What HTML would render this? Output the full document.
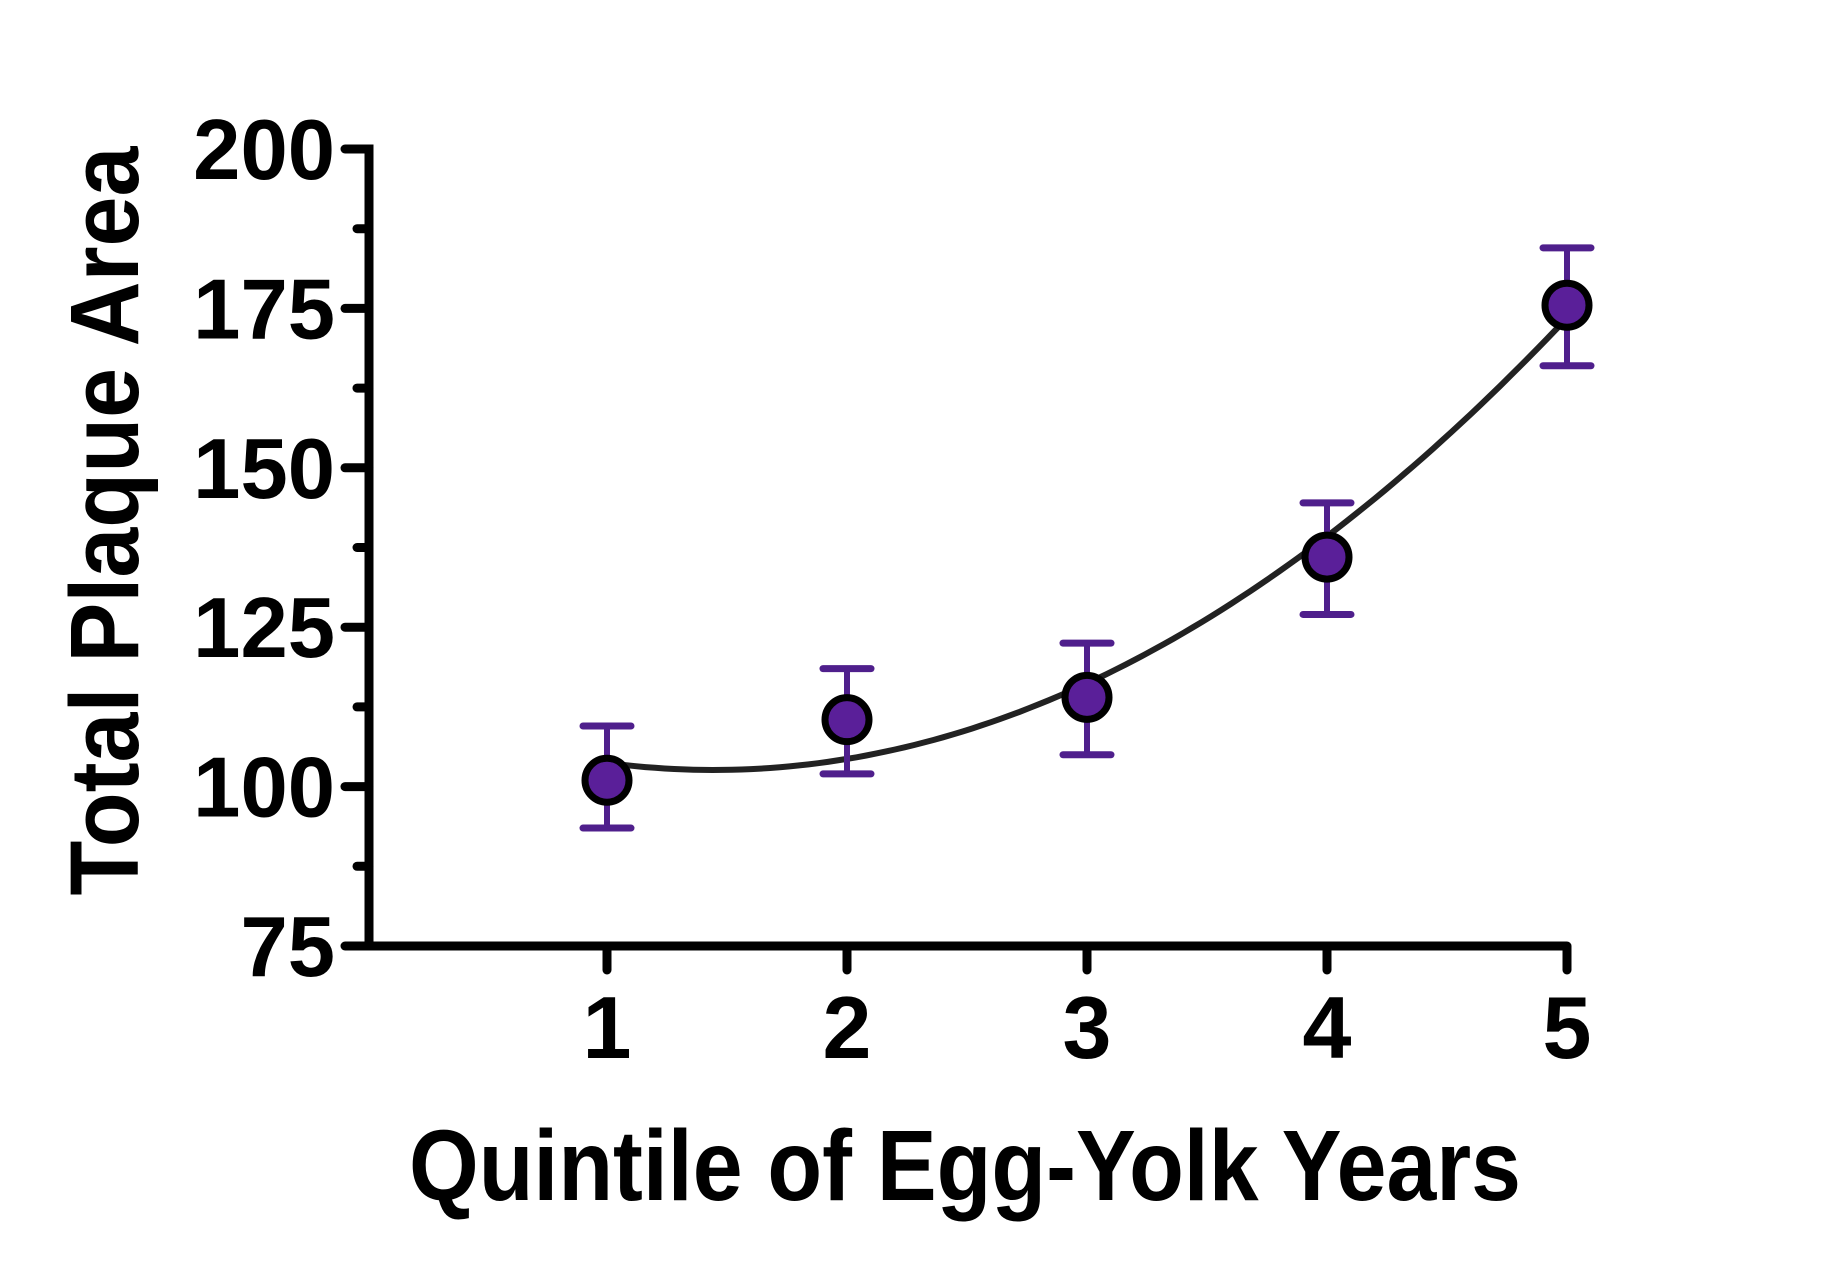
<!DOCTYPE html>
<html><head><meta charset="utf-8"><style>
html,body{margin:0;padding:0;background:#fff;}
svg{display:block;font-family:"Liberation Sans",sans-serif;font-weight:bold;}
</style></head><body>
<svg id="chart" width="1834" height="1275" viewBox="0 0 1834 1275" xmlns="http://www.w3.org/2000/svg">
<g id="axes"></g>
<g id="fit"></g>
<g id="pts"></g>
<text x="965" y="1200" font-size="100" text-anchor="middle" textLength="1112" lengthAdjust="spacingAndGlyphs" fill="#000">Quintile of Egg-Yolk Years</text>
<text transform="translate(138,521) rotate(-90)" font-size="97" text-anchor="middle" textLength="749" lengthAdjust="spacingAndGlyphs" fill="#000">Total Plaque Area</text>
</svg>
<script>
const categories = [1, 2, 3, 4, 5];
const means = [101, 110.5, 114, 136, 175.5];
const errLow = [93.5, 102, 105, 127, 166];
const errHigh = [109.5, 118.5, 122.5, 144.5, 184.5];
const yTicks = [75, 100, 125, 150, 175, 200];
const yMinorTicks = [87.5, 112.5, 137.5, 162.5, 187.5];

const NS = "http://www.w3.org/2000/svg";
const X0 = 369, X1y = 946, Y200 = 149;
function xs(v){ return 607 + (v - 1) * 240; }
function ys(v){ return X1y - (v - 75) / 125 * (X1y - Y200); }
function mk(tag, attrs, parent){ const e = document.createElementNS(NS, tag); for (const k in attrs) e.setAttribute(k, attrs[k]); parent.appendChild(e); return e; }

const axes = document.getElementById('axes');
let yl = mk('line', {x1:X0, y1:Y200, x2:X0, y2:X1y, stroke:'#000', 'stroke-width':9, 'stroke-linecap':'square'}, axes);


let xl = mk('line', {x1:X0, y1:X1y, x2:xs(5), y2:X1y, stroke:'#000', 'stroke-width':9}, axes);


yTicks.forEach(t => {
  const l = mk('line', {x1:X0-24, y1:ys(t), x2:X0, y2:ys(t), stroke:'#000', 'stroke-width':9, 'stroke-linecap':'round'}, axes);
  
  
  const tx = mk('text', {x:335, y:ys(t)+30, 'font-size':85, 'text-anchor':'end', fill:'#000'}, axes);
  tx.textContent = t;
  
  
});
yMinorTicks.forEach(t => {
  const l = mk('line', {x1:X0-12, y1:ys(t), x2:X0, y2:ys(t), stroke:'#000', 'stroke-width':9, 'stroke-linecap':'round'}, axes);
  
  
});
categories.forEach(c => {
  const l = mk('line', {x1:xs(c), y1:X1y, x2:xs(c), y2:X1y+24, stroke:'#000', 'stroke-width':9, 'stroke-linecap':'round'}, axes);
  
  
  const tx = mk('text', {x:xs(c), y:1058, 'font-size':88, 'text-anchor':'middle', fill:'#000'}, axes);
  tx.textContent = c;
  
  
});

// least-squares quadratic fit of means
(function(){
  const n = categories.length;
  let S = [0,0,0,0,0], T = [0,0,0];
  for (let i=0;i<n;i++){ const x=categories[i], y=means[i]; for(let p=0;p<5;p++) S[p]+=Math.pow(x,p); for(let p=0;p<3;p++) T[p]+=y*Math.pow(x,p); }
  const A = [[S[0],S[1],S[2],T[0]],[S[1],S[2],S[3],T[1]],[S[2],S[3],S[4],T[2]]];
  for (let i=0;i<3;i++){ for(let j=i+1;j<3;j++){ const f=A[j][i]/A[i][i]; for(let k=i;k<4;k++) A[j][k]-=f*A[i][k]; } }
  const co=[0,0,0];
  for (let i=2;i>=0;i--){ let s=A[i][3]; for(let k=i+1;k<3;k++) s-=A[i][k]*co[k]; co[i]=s/A[i][i]; }
  let d='';
  for (let i=0;i<=100;i++){ const x=categories[0]+(categories[n-1]-categories[0])*i/100; const y=co[0]+co[1]*x+co[2]*x*x; d+=(i?'L':'M')+xs(x).toFixed(1)+','+ys(y).toFixed(1); }
  const p = mk('path', {d:d, fill:'none', stroke:'#222', 'stroke-width':6}, document.getElementById('fit'));
  
  
})();

const pts = document.getElementById('pts');
const PUR = '#4f1f8c';
categories.forEach((c,i) => {
  const x = xs(c);
  const g = mk('g', {}, pts);
  
  
  mk('line', {x1:x, y1:ys(errLow[i]), x2:x, y2:ys(errHigh[i]), stroke:PUR, 'stroke-width':6}, g);
  mk('line', {x1:x-24, y1:ys(errLow[i]), x2:x+24, y2:ys(errLow[i]), stroke:PUR, 'stroke-width':7, 'stroke-linecap':'round'}, g);
  mk('line', {x1:x-24, y1:ys(errHigh[i]), x2:x+24, y2:ys(errHigh[i]), stroke:PUR, 'stroke-width':7, 'stroke-linecap':'round'}, g);
  mk('circle', {cx:x, cy:ys(means[i]), r:22, fill:'#5a1f99', stroke:'#000', 'stroke-width':7}, g);
});
</script>
</body></html>
